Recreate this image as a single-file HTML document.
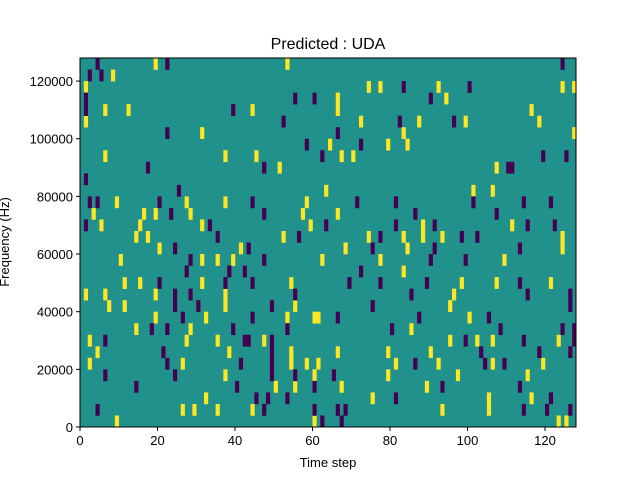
<!DOCTYPE html>
<html><head><meta charset="utf-8"><style>
html,body{margin:0;padding:0;background:#fff;width:640px;height:480px;overflow:hidden}
svg text{font-family:"Liberation Sans","DejaVu Sans",sans-serif;fill:#000}
</style></head><body>
<svg id="chart" width="640" height="480" xmlns="http://www.w3.org/2000/svg">
<text x="328" y="49" font-size="16" text-anchor="middle">Predicted : UDA</text>
<text x="328" y="467" font-size="13" text-anchor="middle">Time step</text>
<text transform="translate(9,242) rotate(-90)" font-size="13" text-anchor="middle">Frequency (Hz)</text>
<g id="cells"></g>
<g id="axes"></g>
</svg>
<script>
const xTicks=[0,20,40,60,80,100,120];
const yTicks=[0,20000,40000,60000,80000,100000,120000];
const yTickLabels=["0","20000","40000","60000","80000","100000","120000"];
const nCols=128, nRows=32, yMax=128000;
const yellowByRow=[
[9,60,123,125],[26,29,35,44,93,105],[32,75,105,116],[50,55,67,89],[37,60,79,97,115],
[2,26,54,58,61,81,92,106,119],[4,38,54,66,79,90],[2,27,35,47,95,102,106,123],[14,28,85],[19,32,53,60,61,100],
[7,11,37,55,95],[1,6,19,37,96],[11,15,31,54,98,107,121],[83],[10,31,35,39,62,77,109],
[20,41,68,84,124],[14,17,52,74,83,88,93,124],[5,15,31,59,88,111],[3,16,19,28,57,66],[9,27,37,58],
[63,101,106],[],[51,107],[6,37,45,67,70],[64,79,84],
[31,83,127],[1,72,87,99,118],[6,12,44,66,116],[66,94],[1,74,77,92,124,127],
[8],[19,53]];
const purpleByRow=[
[62,67],[4,47,60,66,68,114,120,126],[45,48,53,81,121],[14,40,60,93,113],[6,24,49,55,65],
[22,41,49,86,104,109],[21,49,103,118,126],[6,42,43,49,99,114,127],[18,22,39,53,80,108,124,127],[26,44,66,87,105],
[24,30,49,75,126],[24,28,55,85,115,126],[20,37,44,69,77,89,113],[27,38,42,72],[28,47,90,99],
[24,43,75,91,113],[35,56,77,98,102],[1,33,63,81,91,115,122],[23,47,86,107],[2,4,20,44,71,81,101,114,121],
[25],[1],[17,47,110,111],[62,119,125],[58,72],
[22,66],[52,82,96],[1,39],[1,55,60,90],[83,100],
[2,5],[4,22,124]];
const L=80,T=58,W=496,H=369;
const xs=v=>L+v/nCols*W;
const ys=v=>T+H-v/yMax*H;
const NS="http://www.w3.org/2000/svg";
const cells=document.getElementById('cells');
const axes=document.getElementById('axes');
function mk(tag,attrs,parent){const e=document.createElementNS(NS,tag);for(const k in attrs)e.setAttribute(k,attrs[k]);parent.appendChild(e);return e;}
const bg=mk('rect',{x:L,y:T,width:W,height:H,fill:'#21918c'},cells);


function drawSet(byRow,color,name){
  byRow.forEach((cols,r)=>{cols.forEach(c=>{
    const y0=ys((r+1)*yMax/nRows), y1=ys(r*yMax/nRows);
    const x0=xs(c), x1=xs(c+1);
    const e=mk('rect',{x:x0,y:y0,width:x1-x0+0.3,height:y1-y0+0.3,fill:color},cells);
    
    
  });});
}
drawSet(yellowByRow,'#fde725','heatmap-cell-high');
drawSet(purpleByRow,'#440154','heatmap-cell-low');
const frame=mk('rect',{x:L,y:T,width:W,height:H,fill:'none',stroke:'#000','stroke-width':1},axes);


xTicks.forEach(v=>{
  const x=xs(v);
  const t=mk('line',{x1:x,x2:x,y1:T+H,y2:T+H+4,stroke:'#000'},axes);
  
  
  const l=mk('text',{x:x,y:T+H+18,'font-size':13,'text-anchor':'middle'},axes);
  l.textContent=String(v);
  
  
});
yTicks.forEach((v,i)=>{
  const y=ys(v);
  const t=mk('line',{x1:L-4,x2:L,y1:y,y2:y,stroke:'#000'},axes);
  
  
  const l=mk('text',{x:L-7,y:y+5,'font-size':13,'text-anchor':'end'},axes);
  l.textContent=yTickLabels[i];
  
  
});
</script>
</body></html>
